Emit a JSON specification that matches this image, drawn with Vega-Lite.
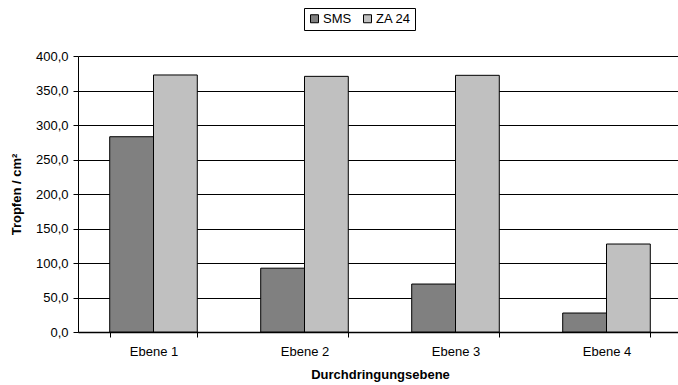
{
  "$schema": "https://vega.github.io/schema/vega-lite/v6.json",
  "autosize": {"type": "none"},
  "padding": {"left": 78, "top": 56, "right": 0, "bottom": 53},
  "width": 600,
  "height": 276,
  "background": "white",
  "config": {
    "font": "Liberation Sans",
    "view": {"stroke": null},
    "axis": {
      "labelFont": "Liberation Sans",
      "titleFont": "Liberation Sans",
      "labelFontSize": 13,
      "titleFontSize": 13,
      "labelColor": "#000000",
      "titleColor": "#000000",
      "domainColor": "#000000",
      "tickColor": "#000000",
      "gridColor": "#000000",
      "gridOpacity": 1,
      "titleFontWeight": "bold"
    }
  },
  "data": {
    "values": [
      {"Ebene": "Ebene 1", "Serie": "SMS", "Tropfen": 283.0},
      {"Ebene": "Ebene 1", "Serie": "ZA 24", "Tropfen": 372.5},
      {"Ebene": "Ebene 2", "Serie": "SMS", "Tropfen": 92.5},
      {"Ebene": "Ebene 2", "Serie": "ZA 24", "Tropfen": 370.5},
      {"Ebene": "Ebene 3", "Serie": "SMS", "Tropfen": 69.5},
      {"Ebene": "Ebene 3", "Serie": "ZA 24", "Tropfen": 372.0},
      {"Ebene": "Ebene 4", "Serie": "SMS", "Tropfen": 27.5},
      {"Ebene": "Ebene 4", "Serie": "ZA 24", "Tropfen": 127.5}
    ]
  },
  "mark": {"type": "bar", "stroke": "#000000", "strokeWidth": 1},
  "encoding": {
    "x": {
      "field": "Ebene",
      "type": "nominal",
      "scale": {"range": [0, 604], "paddingInner": 0.42, "paddingOuter": 0.21},
      "axis": {
        "title": "Durchdringungsebene",
        "labelAngle": 0,
        "tickBand": "extent",
        "tickSize": 5,
        "labelPadding": 8,
        "titlePadding": 10,
        "grid": false,
        "domainWidth": 1.5
      }
    },
    "xOffset": {"field": "Serie", "type": "nominal", "scale": {"paddingInner": 0, "paddingOuter": 0}},
    "y": {
      "field": "Tropfen",
      "type": "quantitative",
      "scale": {"domain": [0, 400], "nice": false},
      "axis": {
        "title": "Tropfen / cm²",
        "values": [0, 50, 100, 150, 200, 250, 300, 350, 400],
        "labelExpr": "replace(format(datum.value, '.1f'), '.', ',')",
        "tickSize": 5,
        "labelPadding": 5,
        "titlePadding": 12,
        "grid": true,
        "gridWidth": 1
      }
    },
    "color": {
      "field": "Serie",
      "type": "nominal",
      "scale": {"domain": ["SMS", "ZA 24"], "range": ["#808080", "#C0C0C0"]},
      "legend": {
        "title": null,
        "orient": "none",
        "direction": "horizontal",
        "legendX": 226,
        "legendY": -48,
        "symbolType": "square",
        "symbolSize": 64,
        "symbolStrokeColor": "#000000",
        "symbolStrokeWidth": 1,
        "symbolOpacity": 1,
        "labelFont": "Liberation Sans",
        "labelFontSize": 13,
        "labelColor": "#000000",
        "labelOffset": 2,
        "columnPadding": 9,
        "strokeColor": "#000000",
        "padding": 4
      }
    }
  }
}
